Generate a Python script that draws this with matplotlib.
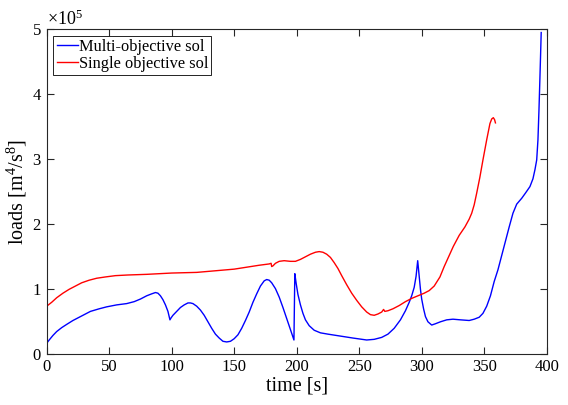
import matplotlib
matplotlib.use("Agg")
import matplotlib.pyplot as plt
from matplotlib.ticker import ScalarFormatter

plt.rcParams['font.family'] = ['Liberation Serif', 'DejaVu Serif']
plt.rcParams['mathtext.fontset'] = 'custom'
plt.rcParams['mathtext.rm'] = 'Liberation Serif'
plt.rcParams['mathtext.it'] = 'Liberation Serif:italic'

multi_t = [0, 2, 5, 8, 12, 16, 21, 28, 35, 42, 48, 56, 64, 70, 75, 80, 84, 87, 89, 91, 93, 95,
           97, 98.6, 99.5, 101, 104, 107, 110, 113, 115, 117, 120, 123, 126, 129, 132, 135, 138,
           141, 144, 147, 150, 153, 156, 159, 162, 165, 168, 171, 174, 176, 178, 180, 183, 186,
           189, 192, 195, 197.8, 198.5, 199.5, 201, 203, 205, 207, 210, 214, 219, 225, 235, 245,
           256, 262, 268, 273, 278, 283, 287, 290, 292, 294, 295.5, 296.8, 298, 299, 300, 301.5,
           303, 305, 308, 311, 315, 320, 325, 331, 338, 342, 346, 349, 352, 355, 358, 361, 364,
           367, 370, 373, 376, 380, 383, 386.6, 389, 390.6, 392, 393, 393.8, 394.5, 395.1, 395.6]
multi_v = [0.17, 0.22, 0.29, 0.35, 0.41, 0.46, 0.52, 0.59, 0.66, 0.70, 0.73, 0.76, 0.78, 0.81,
           0.85, 0.90, 0.93, 0.95, 0.94, 0.90, 0.84, 0.76, 0.66, 0.53, 0.56, 0.60, 0.66, 0.72,
           0.76, 0.79, 0.79, 0.78, 0.74, 0.68, 0.60, 0.50, 0.40, 0.31, 0.25, 0.20, 0.19, 0.20,
           0.24, 0.30, 0.40, 0.52, 0.65, 0.80, 0.93, 1.05, 1.13, 1.15, 1.14, 1.10, 1.01, 0.88,
           0.72, 0.55, 0.38, 0.22, 1.24, 1.10, 0.92, 0.76, 0.63, 0.53, 0.44, 0.37, 0.33, 0.31,
           0.28, 0.25, 0.22, 0.23, 0.26, 0.31, 0.40, 0.53, 0.67, 0.80, 0.90, 1.03, 1.20, 1.44,
           1.20, 1.00, 0.85, 0.70, 0.58, 0.50, 0.45, 0.47, 0.50, 0.53, 0.54, 0.53, 0.52, 0.54,
           0.57, 0.63, 0.74, 0.90, 1.12, 1.30, 1.52, 1.74, 1.96, 2.17, 2.31, 2.40, 2.48, 2.58,
           2.70, 2.84, 2.99, 3.3, 3.75, 4.2, 4.6, 4.95]

single_t = [0, 4, 8, 13, 18, 23, 28, 34, 40, 47, 55, 65, 80, 100, 120, 138, 150, 160, 170, 178,
            179.5, 180, 181, 183, 186, 190, 195, 199, 203, 207, 211, 215, 218, 221, 224, 227,
            230, 233, 236, 240, 244, 248, 252, 256, 259, 262, 265, 268, 269.5, 270.5, 273, 277,
            282, 287, 292, 297, 302, 306, 310, 314.6, 318, 322, 325.3, 330, 334.6, 338, 340,
            342, 344, 346.5, 349, 352, 354.6, 356, 357.3, 358.3, 359]
single_v = [0.74, 0.80, 0.87, 0.94, 1.00, 1.05, 1.10, 1.14, 1.17, 1.19, 1.21, 1.22, 1.23, 1.25,
            1.26, 1.29, 1.31, 1.34, 1.37, 1.39, 1.40, 1.35, 1.36, 1.40, 1.43, 1.44, 1.43, 1.43,
            1.46, 1.50, 1.54, 1.57, 1.58, 1.57, 1.54, 1.49, 1.41, 1.32, 1.21, 1.07, 0.94, 0.83,
            0.73, 0.65, 0.61, 0.60, 0.62, 0.65, 0.69, 0.66, 0.67, 0.70, 0.75, 0.81, 0.86, 0.90,
            0.94, 0.98, 1.05, 1.19, 1.35, 1.52, 1.66, 1.83, 1.96, 2.08, 2.17, 2.30, 2.48, 2.72,
            2.99, 3.3, 3.55, 3.62, 3.64, 3.61, 3.56]

scale = 1e5
xticks = [0, 50, 100, 150, 200, 250, 300, 350, 400]
yticks = [0, 1e5, 2e5, 3e5, 4e5, 5e5]

fig = plt.figure(figsize=(5.68, 4.05), dpi=100)
ax = fig.add_axes([0.0822, 0.1252, 0.8803, 0.8025])
ax.plot(multi_t, [v * scale for v in multi_v], color=(0, 0, 1), lw=1.0, label='Multi-objective sol')
ax.plot(single_t, [v * scale for v in single_v], color=(1, 0, 0), lw=1.0, label='Single objective sol')

ax.set_xlim(0, 400)
ax.set_ylim(0, 5e5)
ax.set_xticks(xticks)
ax.set_yticks(yticks)
fmt = ScalarFormatter(useMathText=True)
fmt.set_powerlimits((0, 0))
ax.yaxis.set_major_formatter(fmt)
ax.yaxis.get_offset_text().set_fontsize(13)

axcol = (0.15, 0.15, 0.15)
for s in ax.spines.values():
    s.set_color(axcol)
    s.set_linewidth(0.8)
ax.tick_params(direction='in', top=True, right=True, length=5, width=0.8,
               colors=axcol, labelsize=12, labelcolor='black')
ax.set_xlabel('time [s]', fontsize=14.5, labelpad=1)
ax.set_ylabel('loads [m$^4$/s$^8$]', fontsize=14.5, labelpad=2)

leg = ax.legend(loc='upper left', fontsize=11.8, fancybox=False, framealpha=1,
                edgecolor='black', handlelength=1.3, handletextpad=0.05,
                borderpad=0.2, labelspacing=0.05, borderaxespad=0.4)
leg.get_frame().set_linewidth(0.6)

fig.savefig('out.png', dpi=100)
